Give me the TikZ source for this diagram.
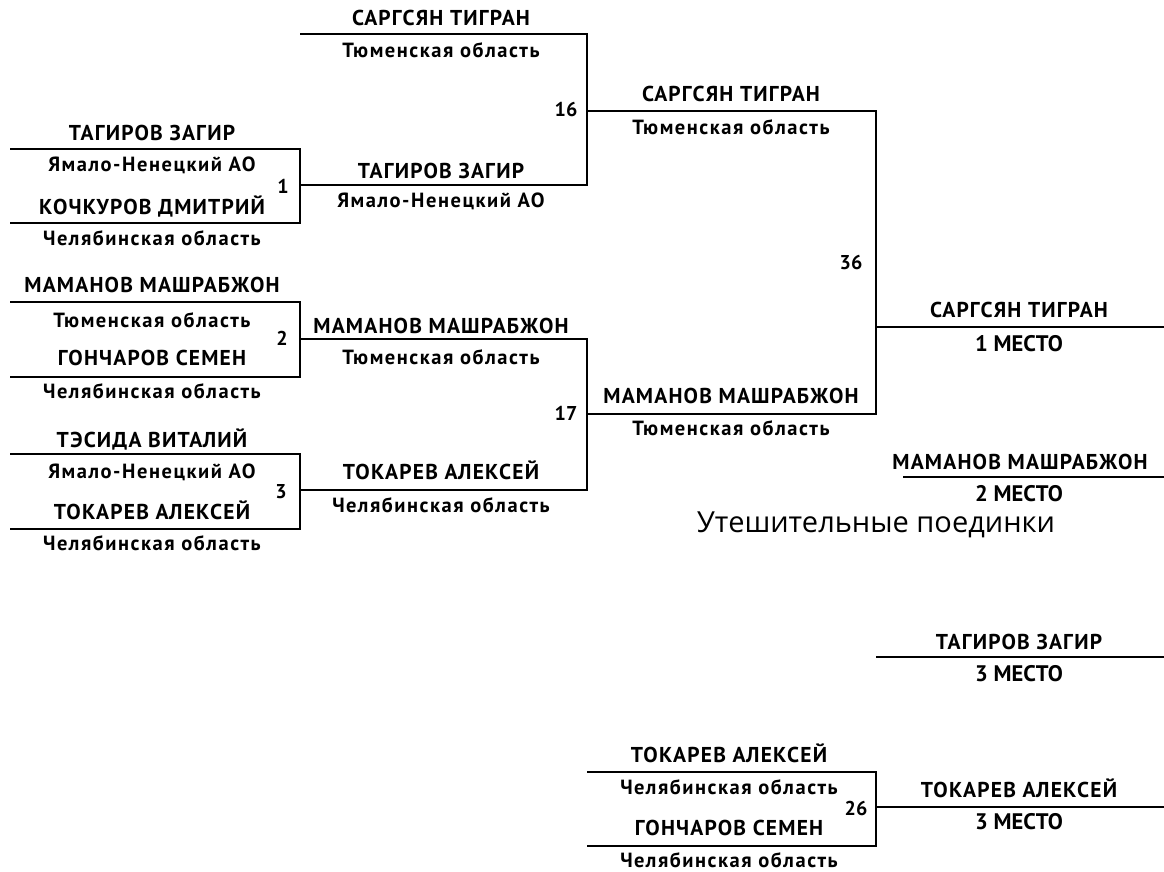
\documentclass[tikz,border=0pt]{standalone}
\usepackage{fontspec}
\newfontfamily\ptsans{PT Sans}
\newfontfamily\ptsansA{PT Sans}[LetterSpace=5.5]
\newfontfamily\ptsansB{PT Sans}[LetterSpace=7.5]
\newfontfamily\opens{Open Sans}
\begin{document}
\begin{tikzpicture}[x=1pt,y=-1pt,
  nm/.style={font=\ptsansA\bfseries\fontsize{21.5}{21.5}\selectfont, inner sep=0pt, text height=14pt, text depth=0pt},
  rg/.style={font=\ptsansB\bfseries\fontsize{20.5}{20.5}\selectfont, inner sep=0pt, text height=14pt, text depth=0pt},
  num/.style={font=\ptsans\bfseries\fontsize{20}{20}\selectfont, inner sep=0pt, text height=14pt, text depth=0pt},
  pl/.style={font=\ptsans\bfseries\fontsize{22.5}{22.5}\selectfont, inner sep=0pt, text height=16pt, text depth=0pt},
  ttl/.style={font=\opens\fontsize{29}{29}\selectfont, inner sep=0pt, text height=20pt, text depth=0pt},
  ln/.style={line width=2pt, line join=miter}]
\useasboundingbox (0,0) rectangle (1164,872);

% ---------- bracket corner coordinates ----------
\coordinate (a1) at (10,149);  \coordinate (a2) at (300,149);  \coordinate (a3) at (300,223);  \coordinate (a4) at (10,223);
\coordinate (b1) at (10,302);  \coordinate (b2) at (300,302);  \coordinate (b3) at (300,377);  \coordinate (b4) at (10,377);
\coordinate (c1) at (10,454);  \coordinate (c2) at (300,454);  \coordinate (c3) at (300,529);  \coordinate (c4) at (10,529);
\coordinate (d1) at (300,34);  \coordinate (d2) at (587,34);   \coordinate (d3) at (587,185);  \coordinate (d4) at (300,185);
\coordinate (e1) at (300,339); \coordinate (e2) at (587,339);  \coordinate (e3) at (587,490);  \coordinate (e4) at (300,490);
\coordinate (f1) at (587,111); \coordinate (f2) at (876,111);  \coordinate (f3) at (876,414);  \coordinate (f4) at (587,414);
\coordinate (g1) at (876,327); \coordinate (g2) at (1164,327);
\coordinate (h1) at (903,477); \coordinate (h2) at (1164,477);
\coordinate (i1) at (876,657); \coordinate (i2) at (1164,657);
\coordinate (k1) at (587,772); \coordinate (k2) at (876,772);  \coordinate (k3) at (876,846);  \coordinate (k4) at (587,846);
\coordinate (l1) at (876,807); \coordinate (l2) at (1164,807);

\draw[ln] (a1) -- (a2) -- (a3) -- (a4);
\draw[ln] (b1) -- (b2) -- (b3) -- (b4);
\draw[ln] (c1) -- (c2) -- (c3) -- (c4);
\draw[ln] (d1) -- (d2) -- (d3) -- (d4);
\draw[ln] (e1) -- (e2) -- (e3) -- (e4);
\draw[ln] (f1) -- (f2) -- (f3) -- (f4);
\draw[ln] (g1) -- (g2);
\draw[ln] (h1) -- (h2);
\draw[ln] (i1) -- (i2);
\draw[ln] (k1) -- (k2) -- (k3) -- (k4);
\draw[ln] (l1) -- (l2);

% ---------- round 1 ----------
\node[nm] (n1a) at (152,133) {ТАГИРОВ ЗАГИР};
\node[rg] (r1a) at (152,164) {Ямало-Ненецкий АО};
\node[nm] (n1b) at (152,207) {КОЧКУРОВ ДМИТРИЙ};
\node[rg] (r1b) at (152,238) {Челябинская область};
\node[num] (x1) at (283,186) {1};

\node[nm] (n2a) at (152,285) {МАМАНОВ МАШРАБЖОН};
\node[rg] (r2a) at (152,320) {Тюменская область};
\node[nm] (n2b) at (152,358) {ГОНЧАРОВ СЕМЕН};
\node[rg] (r2b) at (152,391) {Челябинская область};
\node[num] (x2) at (282,338) {2};

\node[nm] (n3a) at (152,440) {ТЭСИДА ВИТАЛИЙ};
\node[rg] (r3a) at (152,471) {Ямало-Ненецкий АО};
\node[nm] (n3b) at (152,512) {ТОКАРЕВ АЛЕКСЕЙ};
\node[rg] (r3b) at (152,543) {Челябинская область};
\node[num] (x3) at (281,491) {3};

% ---------- round 2 ----------
\node[nm] (n16a) at (441,19) {САРГСЯН ТИГРАН};
\node[rg] (r16a) at (441,51) {Тюменская область};
\node[nm] (n16b) at (441,171) {ТАГИРОВ ЗАГИР};
\node[rg] (r16b) at (441,200) {Ямало-Ненецкий АО};
\node[num] (x16) at (566,110) {16};

\node[nm] (n17a) at (441,326) {МАМАНОВ МАШРАБЖОН};
\node[rg] (r17a) at (441,357) {Тюменская область};
\node[nm] (n17b) at (441,472) {ТОКАРЕВ АЛЕКСЕЙ};
\node[rg] (r17b) at (441,505) {Челябинская область};
\node[num] (x17) at (566,413) {17};

% ---------- round 3 ----------
\node[nm] (n36a) at (731,95) {САРГСЯН ТИГРАН};
\node[rg] (r36a) at (731,128) {Тюменская область};
\node[nm] (n36b) at (731,396) {МАМАНОВ МАШРАБЖОН};
\node[rg] (r36b) at (731,428) {Тюменская область};
\node[num] (x36) at (851,262) {36};

% ---------- places ----------
\node[nm] (p1) at (1019,310) {САРГСЯН ТИГРАН};
\node[pl] (p1l) at (1019,343) {1 МЕСТО};
\node[nm] (p2) at (1020,462) {МАМАНОВ МАШРАБЖОН};
\node[pl] (p2l) at (1019,493) {2 МЕСТО};
\node[ttl] (title) at (876,522) {Утешительные поединки};
\node[nm] (p3) at (1019,642) {ТАГИРОВ ЗАГИР};
\node[pl] (p3l) at (1019,673) {3 МЕСТО};

% ---------- consolation ----------
\node[nm] (n26a) at (729,755) {ТОКАРЕВ АЛЕКСЕЙ};
\node[rg] (r26a) at (729,787) {Челябинская область};
\node[nm] (n26b) at (729,828) {ГОНЧАРОВ СЕМЕН};
\node[rg] (r26b) at (729,860) {Челябинская область};
\node[num] (x26) at (856,808) {26};
\node[nm] (p4) at (1019,790) {ТОКАРЕВ АЛЕКСЕЙ};
\node[pl] (p4l) at (1019,821) {3 МЕСТО};
\end{tikzpicture}
\end{document}
